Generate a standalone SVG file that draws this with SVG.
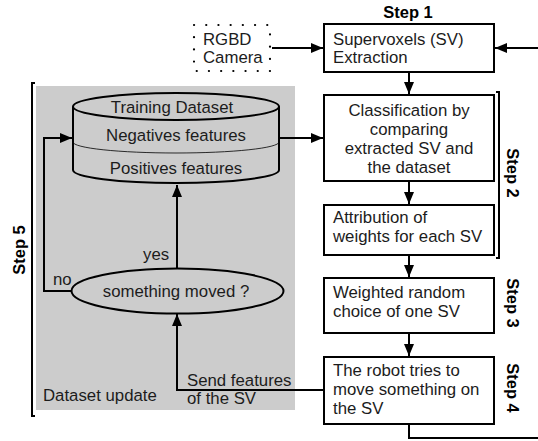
<svg xmlns="http://www.w3.org/2000/svg" width="538" height="441" viewBox="0 0 538 441">
<defs>
<marker id="ah" markerUnits="userSpaceOnUse" markerWidth="13" markerHeight="11" refX="12" refY="5" orient="auto">
<path d="M0,0 L12,5 L0,10 z" fill="#000"/>
</marker>
<style>
text{font-family:"Liberation Sans",Arial,sans-serif;font-size:16.8px;fill:#1c1c1c}
.b{font-weight:bold;font-size:16.5px;fill:#000}
.m{text-anchor:middle}
.box{fill:#fff;stroke:#000;stroke-width:2}
.g{fill:#cccccc;stroke:#000;stroke-width:2}
.ln{fill:none;stroke:#000;stroke-width:2}
.arr{fill:none;stroke:#000;stroke-width:2;marker-end:url(#ah)}
</style>
</defs>
<rect x="0" y="0" width="538" height="441" fill="#fff"/>
<g id="dataset-update-area">
<rect x="36" y="86" width="259" height="324" fill="#cccccc"/>
<text x="43" y="401">Dataset update</text>
</g>
<g id="step5-bracket">
<path class="ln" d="M35,83 H32 V416 H35"/>
<text class="b m" transform="translate(25,250) rotate(-90)">Step 5</text>
</g>
<g id="step2-bracket">
<path class="ln" d="M496,92 H499 V258 H496"/>
<text class="b m" transform="translate(507,173) rotate(90)">Step 2</text>
</g>
<g id="step3-label"><text class="b m" transform="translate(507,303) rotate(90)">Step 3</text></g>
<g id="step4-label"><text class="b m" transform="translate(507,388) rotate(90)">Step 4</text></g>
<g id="step1-label"><text class="b m" x="408" y="18">Step 1</text></g>
<g id="connectors">
<path class="arr" d="M272,48 H323"/>
<path class="arr" d="M538,48 H495"/>
<path class="arr" d="M409,72 V94"/>
<path class="arr" d="M409,181 V204"/>
<path class="arr" d="M409,255 V277"/>
<path class="arr" d="M409,333 V356"/>
<path class="ln" d="M409,424 V438 H538"/>
<path class="arr" d="M324,390 H177 V314"/>
<path class="arr" d="M177,268 V185"/>
<path class="arr" d="M72,291 H44 V138 H72"/>
<path class="arr" d="M279,138 H323"/>
</g>
<g id="rgbd-camera">
<rect x="194" y="25" width="76" height="46" fill="none" stroke="#000" stroke-width="2.2" stroke-linecap="round" stroke-dasharray="0.1 12.1"/>
<text x="203" y="45">RGBD</text>
<text x="203" y="63">Camera</text>
</g>
<g id="supervoxels">
<rect class="box" x="324" y="24" width="170" height="48"/>
<text x="333" y="45">Supervoxels (SV)</text>
<text x="333" y="63">Extraction</text>
</g>
<g id="classification">
<rect class="box" x="324" y="95" width="170" height="86"/>
<text class="m" x="409" y="116">Classification by</text>
<text class="m" x="409" y="135">comparing</text>
<text class="m" x="409" y="154">extracted SV and</text>
<text class="m" x="409" y="173">the dataset</text>
</g>
<g id="attribution">
<rect class="box" x="324" y="205" width="170" height="50"/>
<text x="333" y="223">Attribution of</text>
<text x="333" y="242">weights for each SV</text>
</g>
<g id="weighted-choice">
<rect class="box" x="324" y="278" width="170" height="55"/>
<text x="333" y="298">Weighted random</text>
<text x="333" y="317">choice of one SV</text>
</g>
<g id="robot">
<rect class="box" x="324" y="357" width="170" height="67"/>
<text x="333" y="376">The robot tries to</text>
<text x="333" y="395">move something on</text>
<text x="333" y="414">the SV</text>
</g>
<g id="send-features-label">
<text x="187" y="386">Send features</text>
<text x="187" y="404">of the SV</text>
</g>
<g id="training-dataset">
<path class="g" d="M73,106.5 V170 A103,13 0 0 0 279,170 V106.5"/>
<ellipse class="g" cx="176" cy="106.5" rx="103" ry="13.5"/>
<path d="M73,142 A103,11 0 0 0 279,142" fill="none" stroke="#000" stroke-width="0.8"/>
<text class="m" x="172" y="113">Training Dataset</text>
<text class="m" x="176" y="141">Negatives features</text>
<text class="m" x="176" y="174">Positives features</text>
</g>
<g id="something-moved">
<ellipse class="g" cx="177.5" cy="291" rx="106" ry="22.5"/>
<text class="m" x="176" y="297">something moved ?</text>
<text x="143" y="260">yes</text>
<text x="53" y="285">no</text>
</g>
</svg>
